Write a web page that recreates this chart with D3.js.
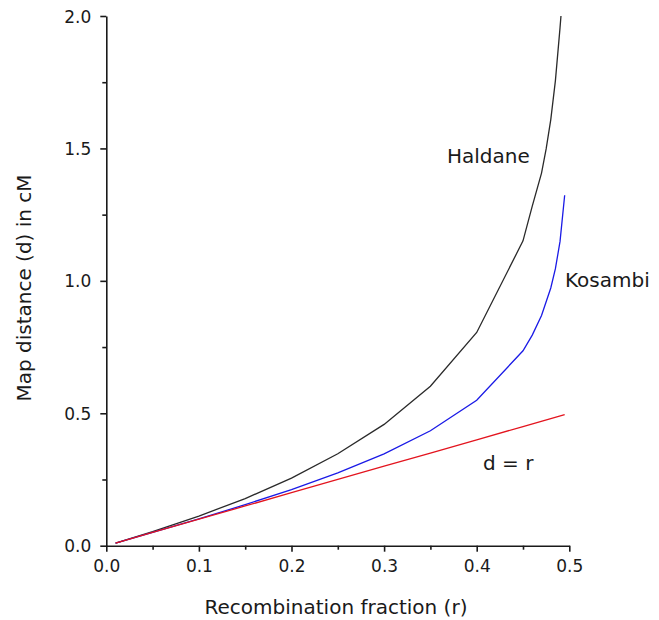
<!DOCTYPE html>
<html>
<head>
<meta charset="utf-8">
<script src="https://cdn.jsdelivr.net/npm/d3@7"></script>
<style>
  html, body { margin: 0; padding: 0; background: #ffffff; }
  svg { display: block; }
  text { font-family: "DejaVu Sans", sans-serif; fill: #1a1a1a; }
</style>
</head>
<body>
<svg id="chart" width="659" height="620"></svg>
<script>
// ---- data ----
const haldaneR = [0.01, 0.05, 0.10, 0.15, 0.20, 0.25, 0.30, 0.35, 0.40, 0.45, 0.46, 0.47, 0.475, 0.48, 0.485, 0.49, 0.491];
const haldaneD = [0.010, 0.053, 0.112, 0.178, 0.255, 0.347, 0.458, 0.602, 0.805, 1.151, 1.282, 1.407, 1.498, 1.609, 1.756, 1.956, 2.0];

const kosambiR = [0.01, 0.05, 0.10, 0.15, 0.20, 0.25, 0.30, 0.35, 0.40, 0.45, 0.46, 0.47, 0.48, 0.485, 0.49, 0.495];
const kosambiD = [0.010, 0.050, 0.101, 0.155, 0.212, 0.275, 0.347, 0.434, 0.549, 0.736, 0.795, 0.869, 0.973, 1.046, 1.149, 1.323];

const linearR = [0.01, 0.05, 0.10, 0.15, 0.20, 0.25, 0.30, 0.35, 0.40, 0.45, 0.495];
const linearD = [0.01, 0.05, 0.10, 0.15, 0.20, 0.25, 0.30, 0.35, 0.40, 0.45, 0.495];

const xMajorTicks = [0, 0.1, 0.2, 0.3, 0.4, 0.5];
const xMinorTicks = [0.05, 0.15, 0.25, 0.35, 0.45];
const yMajorTicks = [0, 0.5, 1.0, 1.5, 2.0];
const yMinorTicks = [0.25, 0.75, 1.25, 1.75];

const seriesNames = ["Haldane", "Kosambi", "d = r"];
const xTitle = "Recombination fraction (r)";
const yTitle = "Map distance (d) in cM";

// ---- drawing ----
const svg = d3.select("#chart");
const x = d3.scaleLinear().domain([0, 0.5]).range([106.3, 569.3]);
const y = d3.scaleLinear().domain([0, 2]).range([545.7, 16]);

const fmt = d3.format(".1f");

// x axis
const gx = svg.append("g").attr("transform", `translate(0,${y(0)})`);
gx.call(d3.axisBottom(x).tickValues(xMajorTicks).tickFormat(fmt).tickSize(6).tickSizeOuter(0).tickPadding(5));
const gxm = svg.append("g").attr("transform", `translate(0,${y(0)})`);
gxm.call(d3.axisBottom(x).tickValues(xMinorTicks).tickFormat("").tickSize(4).tickSizeOuter(0));
gxm.select(".domain").remove();

// y axis
const gy = svg.append("g").attr("transform", `translate(${x(0)},0)`);
gy.call(d3.axisLeft(y).tickValues(yMajorTicks).tickFormat(fmt).tickSize(6).tickSizeOuter(0).tickPadding(9));
const gym = svg.append("g").attr("transform", `translate(${x(0)},0)`);
gym.call(d3.axisLeft(y).tickValues(yMinorTicks).tickFormat("").tickSize(4).tickSizeOuter(0));
gym.select(".domain").remove();

svg.selectAll(".domain, .tick line").attr("stroke", "#1a1a1a").attr("stroke-width", 1.6);
svg.selectAll(".tick text").attr("font-size", 17).attr("fill", "#1a1a1a")
  .attr("font-family", "DejaVu Sans, sans-serif");
gx.selectAll(".tick text").attr("dy", "0.9em");
gy.selectAll(".tick text").attr("dy", "0.36em");

// lines
const line = d3.line().x(d => x(d[0])).y(d => y(d[1]));
const series = [
  { r: haldaneR, d: haldaneD, color: "#2a2a2a" },
  { r: kosambiR, d: kosambiD, color: "#1a1ae6" },
  { r: linearR, d: linearD, color: "#e3141e" }
];
series.forEach(s => {
  svg.append("path")
    .datum(s.r.map((v, i) => [v, s.d[i]]))
    .attr("fill", "none")
    .attr("stroke", s.color)
    .attr("stroke-width", 1.3)
    .attr("d", line);
});

// labels
svg.append("text").attr("x", 447).attr("y", 163).attr("font-size", 20).text(seriesNames[0]);
svg.append("text").attr("x", 565).attr("y", 287).attr("font-size", 20).text(seriesNames[1]);
svg.append("text").attr("x", 483).attr("y", 470).attr("font-size", 20).text(seriesNames[2]);

// axis titles
svg.append("text")
  .attr("x", 336)
  .attr("y", 614)
  .attr("text-anchor", "middle")
  .attr("font-size", 20)
  .text(xTitle);
svg.append("text")
  .attr("transform", "translate(31,288) rotate(-90)")
  .attr("text-anchor", "middle")
  .attr("font-size", 20)
  .text(yTitle);
</script>
</body>
</html>
